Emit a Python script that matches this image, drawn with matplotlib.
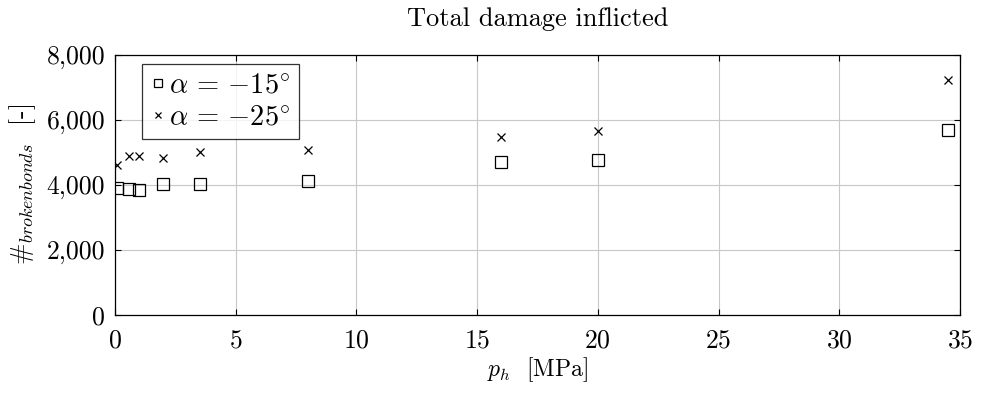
import numpy as np
import matplotlib
matplotlib.use('Agg')
import matplotlib.pyplot as plt
from matplotlib.ticker import FuncFormatter

plt.rcParams['font.family'] = 'serif'
plt.rcParams['font.serif'] = ['cmr10']
plt.rcParams['mathtext.fontset'] = 'cm'
plt.rcParams['axes.formatter.use_mathtext'] = True

# pressure values (MPa)
p_h = [0.1, 0.6, 1.0, 2.0, 3.5, 8.0, 16.0, 20.0, 34.5]
# broken bonds
bonds_15 = [3920, 3880, 3850, 4030, 4020, 4130, 4700, 4780, 5690]
bonds_25 = [4630, 4900, 4880, 4820, 5030, 5070, 5490, 5670, 7230]

fig = plt.figure(figsize=(9.83, 3.94), dpi=100)
ax = fig.add_axes([0.117, 0.2005, 0.8596, 0.66])

ax.plot(p_h, bonds_15, 's', mfc='none', mec='black', ms=8, mew=0.9, label=r'$\alpha\,=\,{-}15^{\circ}$')
ax.plot(p_h, bonds_25, 'x', color='black', ms=6, mew=0.9, label=r'$\alpha\,=\,{-}25^{\circ}$')

ax.set_xlim(0, 35)
ax.set_ylim(0, 8000)
ax.set_xticks(np.arange(0, 36, 5))
ax.set_yticks(np.arange(0, 8001, 2000))
ax.yaxis.set_major_formatter(FuncFormatter(lambda v, pos: '{:,.0f}'.format(v)))
ax.grid(True, color='#c8c8c8', lw=0.8)
ax.set_axisbelow(True)
ax.tick_params(direction='in', labelsize=18.5, top=True, right=True, length=4)
ax.tick_params(axis='x', pad=10)
ax.tick_params(axis='y', pad=7)
for s in ax.spines.values():
    s.set_linewidth(0.9)

ax.set_title('Total damage inflicted', fontsize=19, pad=21)
ax.set_xlabel(r'$p_h$  [MPa]', fontsize=17, labelpad=2)
ax.set_ylabel(r'$\#_{brokenbonds}$  [-]', fontsize=18.5, labelpad=6)

leg = ax.legend(loc='upper left', bbox_to_anchor=(0.032, 0.965), fontsize=20.5, frameon=True,
                fancybox=False, edgecolor='black', handlelength=0.5, handletextpad=0.15,
                borderpad=0.3, labelspacing=0.2, borderaxespad=0, markerscale=0.7)
leg.get_frame().set_linewidth(0.9)

fig.savefig('out.png', dpi=100)
